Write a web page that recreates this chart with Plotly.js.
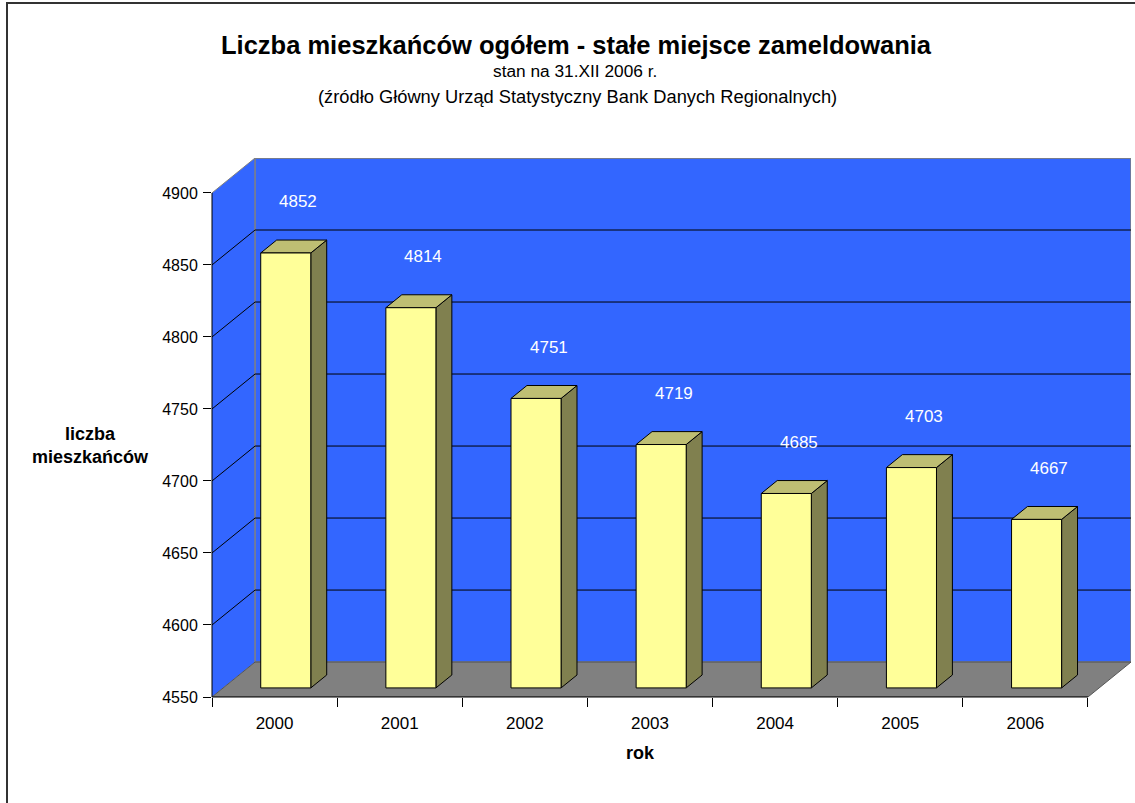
<!DOCTYPE html>
<html>
<head>
<meta charset="utf-8">
<script src="https://cdn.plot.ly/plotly-3.0.1.min.js"></script>
<style>
html,body{margin:0;padding:0;background:#fff;}
#wrap{position:relative;width:1135px;height:803px;overflow:hidden;}
#chart{position:absolute;left:0;top:0;width:1135px;height:803px;}
#frame{position:absolute;left:6px;top:2px;width:1200px;height:900px;border-left:2px solid #333;border-top:2px solid #333;pointer-events:none;}
</style>
</head>
<body>
<div id="wrap"><div id="chart"></div><div id="frame"></div></div>
<script>
// ---- data ----
const years = ['2000', '2001', '2002', '2003', '2004', '2005', '2006'];
const population = [4852, 4814, 4751, 4719, 4685, 4703, 4667];
const yTickValues = [4550, 4600, 4650, 4700, 4750, 4800, 4850, 4900];

const titleText = 'Liczba mieszkańców ogółem - stałe miejsce zameldowania';
const subtitle1 = 'stan na 31.XII 2006 r.';
const subtitle2 = '(źródło Główny Urząd Statystyczny Bank Danych Regionalnych)';
const yTitle = 'liczba<br>mieszkańców';
const xTitle = 'rok';

// ---- 3D box geometry (in axis units) ----
const Y0 = yTickValues[0], Y1 = yTickValues[yTickValues.length - 1];
const N = years.length;
const XL = -0.5, XR = N - 0.5;
const DX = 0.344, DY = 24.26;       // depth offset of back wall
const HALF = 0.2;                   // half bar width
const F1 = 0.26, F2 = 0.63;         // bar front / back depth fractions
const FL = 0.55;                    // label depth fraction

const FONT = 'Liberation Sans, Arial, sans-serif';

// plot area in pixels (for placing titles)
const W = 1135, H = 803;
const ML = 212, MR = 4, MT = 157.5, MB = 106;
const PW = W - ML - MR, PH = H - MT - MB;
const fx = px => (px - ML) / PW;
const fy = py => (H - MB - py) / PH;

// ---- bars as filled traces ----
function facePolys(kind) {
  const xs = [], ys = [];
  population.forEach((v, i) => {
    const x0 = i - HALF + F1 * DX, x1 = i + HALF + F1 * DX;
    const yb = Y0 + F1 * DY, yt = v + F1 * DY;
    const ddx = (F2 - F1) * DX, ddy = (F2 - F1) * DY;
    let px, py;
    if (kind === 'front') { px = [x0, x1, x1, x0, x0]; py = [yb, yb, yt, yt, yb]; }
    else if (kind === 'side') { px = [x1, x1 + ddx, x1 + ddx, x1, x1]; py = [yb, yb + ddy, yt + ddy, yt, yb]; }
    else { px = [x0, x1, x1 + ddx, x0 + ddx, x0]; py = [yt, yt, yt + ddy, yt + ddy, yt]; }
    xs.push(...px, null); ys.push(...py, null);
  });
  return {xs, ys};
}
const faceColors = {front: '#FFFF99', side: '#80804F', top: '#BEBE73'};
const traces = ['side', 'top', 'front'].map(k => {
  const p = facePolys(k);
  return {
    type: 'scatter', mode: 'lines', x: p.xs, y: p.ys,
    fill: 'toself', fillcolor: faceColors[k],
    line: {color: '#000000', width: 1}, hoverinfo: 'skip',
    showlegend: false, xaxis: 'x', yaxis: 'y'
  };
});
// boundary ticks helper trace on xaxis2
traces.push({type: 'scatter', mode: 'markers', x: [0], y: [Y0], xaxis: 'x2', yaxis: 'y',
  marker: {opacity: 0}, hoverinfo: 'skip', showlegend: false});

// ---- walls, floor, gridlines ----
const shapes = [];
const path = pts => 'M ' + pts.map(p => p[0] + ',' + p[1]).join(' L ') + ' Z';
// left wall
shapes.push({type: 'path', xref: 'x', yref: 'y', layer: 'below',
  path: path([[XL, Y0], [XL, Y1], [XL + DX, Y1 + DY], [XL + DX, Y0 + DY]]),
  fillcolor: '#3366FF', line: {width: 0}});
// back wall
shapes.push({type: 'rect', xref: 'x', yref: 'y', layer: 'below',
  x0: XL + DX, x1: XR + DX, y0: Y0 + DY, y1: Y1 + DY,
  fillcolor: '#3366FF', line: {color: '#808080', width: 1.5}});
// floor
shapes.push({type: 'path', xref: 'x', yref: 'y', layer: 'below',
  path: path([[XL, Y0], [XR, Y0], [XR + DX, Y0 + DY], [XL + DX, Y0 + DY]]),
  fillcolor: '#808080', line: {color: '#555555', width: 1}});
// gridlines (wall)
yTickValues.forEach(v => {
  if (v === Y0) return;
  shapes.push({type: 'path', xref: 'x', yref: 'y', layer: 'below',
    path: 'M ' + XL + ',' + v + ' L ' + (XL + DX) + ',' + (v + DY) + ' L ' + (XR + DX) + ',' + (v + DY),
    line: {color: v === Y1 ? '#808080' : '#000000', width: 1}});
});
// front axis lines
shapes.push({type: 'line', xref: 'paper', yref: 'y', x0: 0, x1: 0, y0: Y0, y1: Y1,
  line: {color: '#000000', width: 1}});
shapes.push({type: 'line', xref: 'x', yref: 'paper', x0: XL, x1: XR, y0: 0, y1: 0,
  line: {color: '#000000', width: 1}});

// ---- annotations ----
const annotations = population.map((v, i) => ({
  x: i + FL * DX, y: v + FL * DY, xref: 'x', yref: 'y', yshift: 41,
  text: String(v), showarrow: false,
  font: {family: FONT, size: 17, color: '#FFFFFF'}
}));
annotations.push(
  {xref: 'paper', yref: 'paper', x: fx(576), y: fy(44), text: '<b>' + titleText + '</b>',
    showarrow: false, xanchor: 'center', yanchor: 'middle', font: {family: FONT, size: 25.5, color: '#000'}},
  {xref: 'paper', yref: 'paper', x: fx(575), y: fy(70), text: subtitle1,
    showarrow: false, xanchor: 'center', yanchor: 'middle', font: {family: FONT, size: 17.3, color: '#000'}},
  {xref: 'paper', yref: 'paper', x: fx(577), y: fy(96), text: subtitle2,
    showarrow: false, xanchor: 'center', yanchor: 'middle', font: {family: FONT, size: 18.3, color: '#000'}},
  {xref: 'paper', yref: 'paper', x: fx(90), y: fy(445), text: '<b>' + yTitle + '</b>',
    showarrow: false, xanchor: 'center', yanchor: 'middle', font: {family: FONT, size: 18, color: '#000'}},
  {xref: 'paper', yref: 'paper', x: fx(640), y: fy(753), text: '<b>' + xTitle + '</b>',
    showarrow: false, xanchor: 'center', yanchor: 'middle', font: {family: FONT, size: 18, color: '#000'}}
);

const boundaries = [];
for (let i = 0; i <= N; i++) boundaries.push(i - 0.5);

const layout = {
  width: W, height: H,
  margin: {l: ML, r: MR, t: MT, b: MB, pad: 0},
  paper_bgcolor: '#FFFFFF', plot_bgcolor: 'rgba(0,0,0,0)',
  showlegend: false,
  xaxis: {range: [XL, XR + DX], tickvals: years.map((y, i) => i), ticktext: years,
    showgrid: false, zeroline: false, showline: false, ticks: '',
    ticklabelstandoff: 14,
    tickfont: {family: FONT, size: 17, color: '#000'}, fixedrange: true},
  xaxis2: {range: [XL, XR + DX], overlaying: 'x', anchor: 'y', side: 'bottom',
    tickvals: boundaries, showticklabels: false, ticks: 'outside', ticklen: 9,
    tickcolor: '#000', tickwidth: 1, showgrid: false, zeroline: false, showline: false},
  yaxis: {range: [Y0, Y1 + DY], tickvals: yTickValues, ticktext: yTickValues.map(String),
    showgrid: false, zeroline: false, showline: false,
    ticks: 'outside', ticklen: 8, tickcolor: '#000', tickwidth: 1,
    ticklabelstandoff: 2,
    tickfont: {family: FONT, size: 16, color: '#000'}, fixedrange: true},
  shapes, annotations
};

Plotly.newPlot('chart', traces, layout, {displayModeBar: false, staticPlot: true});
</script>
</body>
</html>
